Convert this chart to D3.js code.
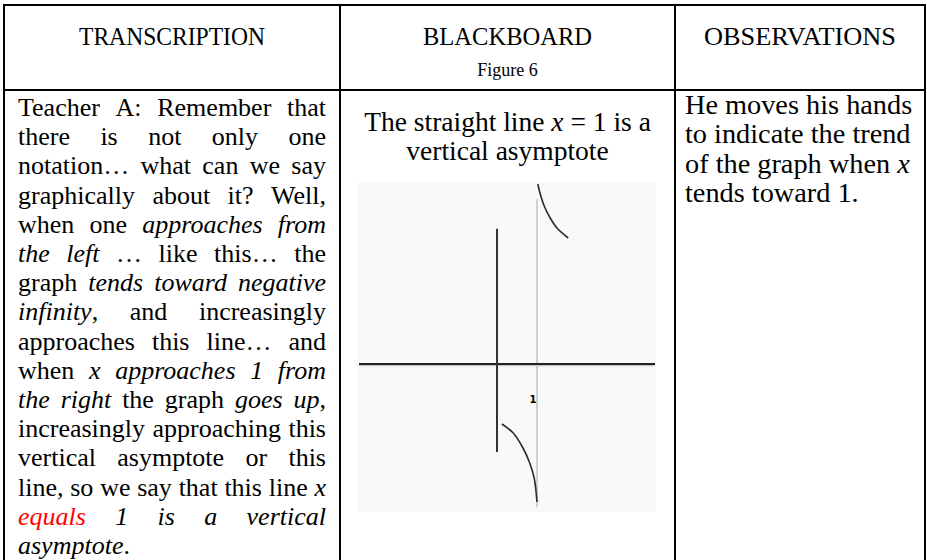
<!DOCTYPE html>
<html>
<head>
<meta charset="utf-8">
<script src="https://cdn.jsdelivr.net/npm/d3@7"></script>
<style>
  body { margin: 0; background: #fff; }
  svg text { font-family: "Liberation Serif", "Times New Roman", serif; fill: #000; }
</style>
</head>
<body>
<div id="table"></div>
<script>
// Table texts (* toggles italic, ^ toggles red)
const headers = ["TRANSCRIPTION", "BLACKBOARD", "OBSERVATIONS"];
const headerWidths = [186, 169, 192];
const figureLabel = "Figure 6";
const transcriptLines = [
  "Teacher A: Remember that",
  "there is not only one",
  "notation… what can we say",
  "graphically about it? Well,",
  "when one *approaches from*",
  "*the left* … like this… the",
  "graph *tends toward negative*",
  "*infinity*, and increasingly",
  "approaches this line… and",
  "when *x approaches 1 from*",
  "*the right* the graph *goes up*,",
  "increasingly approaching this",
  "vertical asymptote or this",
  "line, so we say that this line *x*",
  "*^equals^ 1 is a vertical*",
  "*asymptote*."
];
const boardLines = ["The straight line *x* = 1 is a", "vertical asymptote"];
const observationLines = [
  "He moves his hands",
  "to indicate the trend",
  "of the graph when *x*",
  "tends toward 1."
];

// Blackboard sketch (graph units)
const upperBranch = [[1.02, 4.5], [1.08, 4.25], [1.18, 3.95], [1.33, 3.65], [1.5, 3.4], [1.78, 3.15]];
const lowerBranch = [[0.12, -1.5], [0.4, -1.72], [0.65, -2.1], [0.82, -2.48], [0.93, -2.85], [1.0, -3.45]];
const xAxisExtent = [-3.45, 3.95];
const yAxisExtent = [-2.2, 3.38];
const asymptoteX = 1;
const asymptoteExtent = [-3.58, 4.12];
const boardArea = { x: [-3.5, 3.98], y: [-3.7, 4.55] };
const tickLabel = { text: "1", x: 0.9, y: -0.98 };

const W = 927, H = 560;
const cols = [4, 340, 675, 925];
const topY = 5, headY = 90;

const svg = d3.select("#table").append("svg")
  .attr("width", W).attr("height", H);

svg.append("rect").attr("width", W).attr("height", H).attr("fill", "#fff");

// parse markup into words made of styled pieces
function parseLine(str) {
  const words = [];
  let it = false, red = false, word = [], piece = null;
  const flush = () => { if (piece && piece.t) word.push(piece); piece = null; };
  for (const ch of str) {
    if (ch === "*") { flush(); it = !it; continue; }
    if (ch === "^") { flush(); red = !red; continue; }
    if (ch === " ") { flush(); if (word.length) words.push(word); word = []; continue; }
    if (!piece) piece = { t: "", it, red };
    piece.t += ch;
  }
  flush();
  if (word.length) words.push(word);
  return words;
}

function addPieces(text, pieces) {
  pieces.forEach(p => {
    text.append("tspan")
      .attr("font-style", p.it ? "italic" : "normal")
      .attr("fill", p.red ? "#ff0000" : "#000")
      .text(p.t);
  });
}

// justified paragraph
function drawJustified(lines, x0, x1, y0, lh, size, justify) {
  const g = svg.append("g").attr("font-size", size);
  const spaceW = size * 0.25;
  lines.forEach((line, i) => {
    const words = parseLine(line);
    const nodes = words.map(w => {
      const t = g.append("text").attr("y", y0 + i * lh);
      addPieces(t, w);
      return t;
    });
    const widths = nodes.map(t => t.node().getComputedTextLength());
    const total = d3.sum(widths);
    const last = i === lines.length - 1;
    const gap = (justify && !last && words.length > 1)
      ? (x1 - x0 - total) / (words.length - 1) : spaceW;
    let x = x0;
    nodes.forEach((t, k) => { t.attr("x", x); x += widths[k] + gap; });
  });
}

function drawCentered(lines, cx, y0, lh, size) {
  lines.forEach((line, i) => {
    const t = svg.append("text")
      .attr("x", cx).attr("y", y0 + i * lh)
      .attr("text-anchor", "middle")
      .attr("font-size", size)
      .attr("xml:space", "preserve");
    addPieces(t, parseLine(line).map((w, k) => k ? [{ t: " ", it: false }, ...w] : w).flat());
  });
}

// header
headers.forEach((h, i) => {
  svg.append("text")
    .attr("x", (cols[i] + cols[i + 1]) / 2)
    .attr("y", 45)
    .attr("text-anchor", "middle")
    .attr("font-size", 26)
    .attr("textLength", headerWidths[i])
    .attr("lengthAdjust", "spacingAndGlyphs")
    .text(h);
});
svg.append("text")
  .attr("x", (cols[1] + cols[2]) / 2).attr("y", 76)
  .attr("text-anchor", "middle").attr("font-size", 18)
  .text(figureLabel);

// body texts
drawJustified(transcriptLines, 18, 326, 116, 29.2, 26, true);
drawJustified(observationLines, 685, 915, 114, 29.3, 28.3, false);
drawCentered(boardLines, (cols[1] + cols[2]) / 2, 131, 29, 27.5);

// blackboard sketch
const x = d3.scaleLinear().domain([-3.5, 4]).range([357, 657]);
const y = d3.scaleLinear().domain([-3.7, 4.55]).range([512, 182]);

svg.append("rect")
  .attr("x", x(boardArea.x[0])).attr("y", y(boardArea.y[1]))
  .attr("width", x(boardArea.x[1]) - x(boardArea.x[0]))
  .attr("height", y(boardArea.y[0]) - y(boardArea.y[1]))
  .attr("fill", "#f9f9f9");

svg.append("line")
  .attr("x1", x(asymptoteX)).attr("x2", x(asymptoteX))
  .attr("y1", y(asymptoteExtent[1])).attr("y2", y(asymptoteExtent[0]))
  .attr("stroke", "#cfcfcf").attr("stroke-width", 2);

svg.append("line")
  .attr("x1", x(xAxisExtent[0])).attr("x2", x(xAxisExtent[1]))
  .attr("y1", y(0) + 1.5).attr("y2", y(0) + 1.5)
  .attr("stroke", "#c8c8c8").attr("stroke-width", 1.5);
svg.append("line")
  .attr("x1", x(xAxisExtent[0])).attr("x2", x(xAxisExtent[1]))
  .attr("y1", y(0)).attr("y2", y(0))
  .attr("stroke", "#222").attr("stroke-width", 2);

svg.append("line")
  .attr("x1", x(0)).attr("x2", x(0))
  .attr("y1", y(yAxisExtent[1])).attr("y2", y(yAxisExtent[0]))
  .attr("stroke", "#333").attr("stroke-width", 2);

const curve = d3.line().x(d => x(d[0])).y(d => y(d[1])).curve(d3.curveCatmullRom);
[upperBranch, lowerBranch].forEach(b => {
  svg.append("path").attr("d", curve(b))
    .attr("fill", "none").attr("stroke", "#2a2a2a").attr("stroke-width", 1.6);
});

svg.append("text")
  .attr("x", x(tickLabel.x)).attr("y", y(tickLabel.y))
  .attr("text-anchor", "middle")
  .style("font-family", "'DejaVu Sans', sans-serif")
  .attr("font-size", 10).attr("font-weight", "bold")
  .text(tickLabel.text);

// table borders
const border = svg.append("g").attr("stroke", "#000").attr("stroke-width", 2);
cols.forEach(c => border.append("line").attr("x1", c).attr("x2", c).attr("y1", topY - 1).attr("y2", H));
[topY, headY].forEach(r => border.append("line").attr("x1", cols[0] - 1).attr("x2", cols[3] + 1).attr("y1", r).attr("y2", r));
</script>
</body>
</html>
